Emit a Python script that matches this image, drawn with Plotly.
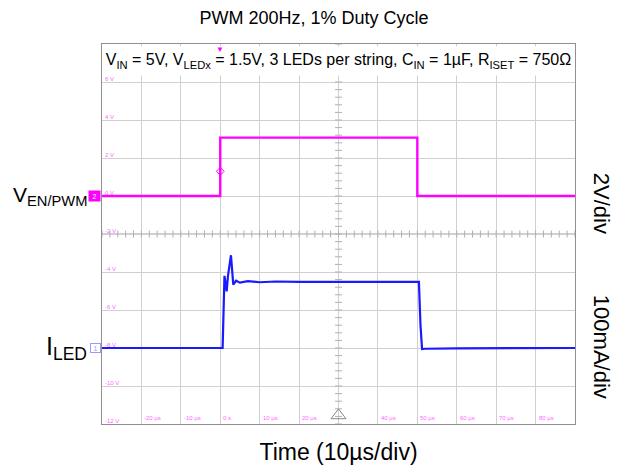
'''
    Scope capture: PWM 200Hz, 1% duty cycle.
    EN/PWM voltage (2V/div) and LED current (100mA/div) over time.
'''

import plotly.graph_objects as go

# time in microseconds, 10us/div
TIME_RANGE = [-30, 90]

# EN/PWM channel (volts)
pwm_time = [-30, 0, 0, 50, 50, 90]
pwm_volts = [0, 0, 3.07, 3.07, 0, 0]

# LED current channel (mA)
led_time = [-30, 0.6, 1.07, 1.63, 1.96, 2.72, 3.3, 4.0, 5.0, 7.0, 10.0, 14.0,
            20.0, 30.0, 40.0, 50.4, 50.8, 51.2, 52.0, 60.0, 90]
led_ma = [0, 0, 190, 149, 190, 244, 167, 177, 172, 176, 173, 175,
          174, 174, 174, 174, 60, -3, -2, -1, 0]

# scope graticule labels
volt_ticks = [-12, -10, -8, -6, -4, -2, 0, 2, 4, 6]
time_ticks = [-20, -10, 0, 10, 20, 40, 50, 60, 70, 80]
time_labels = ['-20 µs', '-10 µs', '0 s', '10 µs', '20 µs', '40 µs',
               '50 µs', '60 µs', '70 µs', '80 µs']

MAGENTA = '#ff00ff'
BLUE = '#1a1aff'
PINK_TEXT = '#ff66ff'
FONT = 'Liberation Sans, Arial, sans-serif'


fig = go.Figure()

# graticule minor ticks along the centre lines
fig.add_trace(go.Scatter(
    x=[TIME_RANGE[0] + i * 2 for i in range(61)],
    y=[-2] * 61,
    mode='markers',
    marker=dict(symbol='line-ns', size=5, line=dict(width=1, color='#b0b0b0')),
    hoverinfo='skip', showlegend=False,
))
fig.add_trace(go.Scatter(
    x=[30] * 51,
    y=[-12 + i * 0.4 for i in range(51)],
    mode='markers',
    marker=dict(symbol='line-ew', size=5, line=dict(width=1, color='#b0b0b0')),
    hoverinfo='skip', showlegend=False,
))

fig.add_trace(go.Scatter(
    x=pwm_time, y=pwm_volts,
    mode='lines',
    line=dict(color=MAGENTA, width=2.4),
    name='V EN/PWM', showlegend=False,
))
fig.add_trace(go.Scatter(
    x=led_time, y=led_ma,
    mode='lines',
    line=dict(color=BLUE, width=2.2),
    yaxis='y2',
    name='I LED', showlegend=False,
))

# trigger markers
fig.add_trace(go.Scatter(
    x=[0], y=[1.3], mode='markers',
    marker=dict(symbol='diamond-open', size=6, color=MAGENTA, line=dict(width=1)),
    hoverinfo='skip', showlegend=False,
))
fig.add_trace(go.Scatter(
    x=[30], y=[-11.55], mode='markers',
    marker=dict(symbol='triangle-up-open', size=13, color='#888888', line=dict(width=1)),
    cliponaxis=False, hoverinfo='skip', showlegend=False,
))

annotations = []
for v in volt_ticks:
    annotations.append(dict(
        x=TIME_RANGE[0], y=v, xref='x', yref='y', text=f'{v} V',
        xanchor='left', yanchor='bottom', xshift=1, yshift=-2, showarrow=False,
        font=dict(size=6, color=PINK_TEXT, family=FONT),
    ))
for t, lab in zip(time_ticks, time_labels):
    annotations.append(dict(
        x=t, y=-12, xref='x', yref='y', text=lab,
        xanchor='left', yanchor='bottom', xshift=1, yshift=1, showarrow=False,
        font=dict(size=6, color=PINK_TEXT, family=FONT),
    ))

# conditions box
annotations.append(dict(
    x=0.5, y=1, xref='paper', yref='paper', xanchor='center', yanchor='top',
    text='V<sub>IN</sub> = 5V, V<sub>LEDx</sub> = 1.5V, 3 LEDs per string, '
         'C<sub>IN</sub> = 1µF, R<sub>ISET</sub> = 750Ω',
    showarrow=False, bgcolor='white', width=469, height=26, yshift=-2,
    font=dict(size=16, color='black', family=FONT),
))

# trigger position marker on top edge
annotations.append(dict(
    x=0, y=1, xref='x', yref='paper', text='▼', yanchor='top',
    showarrow=False, yshift=1, font=dict(size=8, color=MAGENTA, family=FONT),
))

# channel labels
annotations.append(dict(
    x=TIME_RANGE[0], y=0, xref='x', yref='y', text='V<sub>EN/PWM</sub>',
    xanchor='right', xshift=-13, showarrow=False,
    font=dict(size=21, color='black', family=FONT),
))
annotations.append(dict(
    x=TIME_RANGE[0], y=0, xref='x', yref='y2', text='I<sub>LED</sub>',
    xanchor='right', xshift=-13, showarrow=False,
    font=dict(size=25, color='black', family=FONT),
))
annotations.append(dict(
    x=TIME_RANGE[0], y=0, xref='x', yref='y', text='2',
    xanchor='right', xshift=-1, showarrow=False, bgcolor=MAGENTA,
    width=9, height=8, font=dict(size=7, color='white', family=FONT),
))
annotations.append(dict(
    x=TIME_RANGE[0], y=0, xref='x', yref='y2', text='1',
    xanchor='right', xshift=-1, showarrow=False, bordercolor='#9999ff',
    borderwidth=1, borderpad=0, width=9, height=8,
    font=dict(size=7, color='#9999ff', family=FONT),
))

# scale labels on the right
annotations.append(dict(
    x=1, y=0.582, xref='paper', yref='paper', text='2V/div', textangle=90,
    xanchor='center', yanchor='middle', xshift=26, showarrow=False,
    font=dict(size=22, color='black', family=FONT),
))
annotations.append(dict(
    x=1, y=0.203, xref='paper', yref='paper', text='100mA/div', textangle=90,
    xanchor='center', yanchor='middle', xshift=26, showarrow=False,
    font=dict(size=22, color='black', family=FONT),
))

fig.update_layout(
    width=628, height=472,
    margin=dict(l=102, r=53, t=44, b=48),
    plot_bgcolor='white', paper_bgcolor='white',
    font=dict(family=FONT, color='black'),
    title=dict(text='PWM 200Hz, 1% Duty Cycle', x=0.5, xanchor='center',
               y=0.962, yanchor='middle', font=dict(size=18)),
    xaxis=dict(
        range=TIME_RANGE, dtick=10, tick0=0,
        showgrid=True, gridcolor='#d0d0d0', gridwidth=1,
        showticklabels=False, ticks='', zeroline=False,
        showline=True, linecolor='#909090', linewidth=1, mirror=True,
        title=dict(text='Time (10µs/div)', standoff=19, font=dict(size=23)),
    ),
    yaxis=dict(
        range=[-12, 8], dtick=2, tick0=0,
        showgrid=True, gridcolor='#d0d0d0', gridwidth=1,
        showticklabels=False, ticks='', zeroline=False,
        showline=True, linecolor='#909090', linewidth=1, mirror=True,
    ),
    yaxis2=dict(
        range=[-200, 800], overlaying='y', showgrid=False,
        showticklabels=False, ticks='', zeroline=False,
    ),
    annotations=annotations,
    shapes=[
        dict(type='line', xref='x', yref='y', x0=30, x1=30, y0=-12, y1=8,
             line=dict(color='#b0b0b0', width=1, dash='dot'), layer='below'),
        dict(type='line', xref='x', yref='y', x0=-30, x1=90, y0=-2, y1=-2,
             line=dict(color='#c0c0c0', width=1.5), layer='below'),
    ],
)

# drop the default page margin so the figure sits at the window origin
fig.write_html('out.html', config={'displayModeBar': False},
               post_script="document.body.style.margin='0';")
